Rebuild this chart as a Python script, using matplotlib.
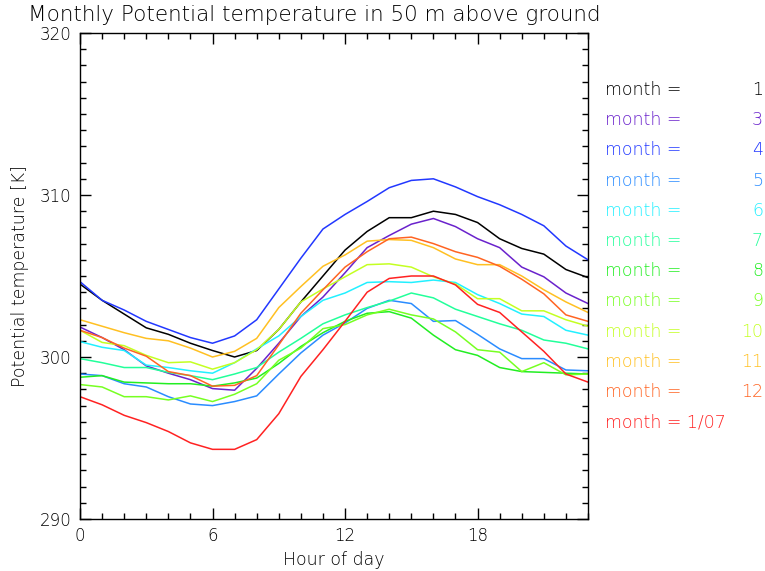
import numpy as np
import matplotlib
matplotlib.use('Agg')
import matplotlib.pyplot as plt
from matplotlib.ticker import MultipleLocator

hours = list(range(24))

# potential temperature [K] per hour
m01 = [304.5, 303.5, 302.65, 301.8, 301.4, 300.85, 300.4, 300.0, 300.4, 301.7, 303.4, 305.0,
       306.6, 307.75, 308.6, 308.6, 309.0, 308.8, 308.3, 307.3, 306.7, 306.35, 305.4, 304.9]
m03 = [301.85, 301.2, 300.45, 299.45, 299.0, 298.6, 298.05, 297.95, 299.3, 300.85, 302.5, 303.7,
       305.2, 306.75, 307.5, 308.2, 308.55, 308.05, 307.3, 306.75, 305.55, 304.95, 303.95, 303.3]
m04 = [304.65, 303.5, 302.9, 302.2, 301.7, 301.2, 300.85, 301.3, 302.3, 304.2, 306.1, 307.9,
       308.8, 309.6, 310.45, 310.9, 311.0, 310.5, 309.9, 309.4, 308.8, 308.1, 306.85, 306.0]
m05 = [298.95, 298.85, 298.35, 298.15, 297.55, 297.1, 297.0, 297.25, 297.6, 298.95, 300.25, 301.35,
       302.1, 303.0, 303.5, 303.3, 302.2, 302.25, 301.4, 300.5, 299.9, 299.9, 299.2, 299.15]
m06 = [300.95, 300.6, 300.4, 299.5, 299.35, 299.15, 299.0, 299.65, 300.5, 301.3, 302.5, 303.5,
       303.95, 304.6, 304.65, 304.6, 304.75, 304.6, 303.85, 303.3, 302.65, 302.5, 301.65, 301.35]
m07 = [299.9, 299.65, 299.35, 299.35, 299.05, 298.85, 298.6, 298.95, 299.35, 300.3, 301.15, 302.05,
       302.6, 303.05, 303.45, 303.95, 303.65, 302.95, 302.5, 302.05, 301.65, 301.05, 300.85, 300.5]
m08 = [298.75, 298.85, 298.45, 298.4, 298.35, 298.35, 298.2, 298.4, 298.7, 299.6, 300.65, 301.5,
       302.2, 302.7, 302.8, 302.4, 301.35, 300.45, 300.1, 299.35, 299.1, 299.05, 299.0, 298.95]
m09 = [298.3, 298.15, 297.55, 297.55, 297.35, 297.6, 297.25, 297.7, 298.35, 299.8, 300.55, 301.75,
       302.0, 302.6, 302.95, 302.6, 302.35, 301.55, 300.45, 300.3, 299.1, 299.65, 298.9, 298.95]
m10 = [301.65, 300.9, 300.7, 300.1, 299.65, 299.7, 299.25, 299.65, 300.45, 301.7, 303.4, 304.2,
       304.95, 305.7, 305.75, 305.55, 304.95, 304.5, 303.6, 303.6, 302.85, 302.85, 302.3, 301.9]
m11 = [302.3, 301.9, 301.5, 301.15, 301.0, 300.55, 300.0, 300.35, 301.15, 303.05, 304.35, 305.6,
       306.3, 307.15, 307.25, 307.2, 306.75, 306.05, 305.7, 305.7, 305.0, 304.15, 303.4, 302.75]
m12 = [301.65, 301.2, 300.55, 300.05, 299.1, 298.85, 298.2, 298.25, 298.85, 300.75, 302.7, 304.15,
       305.55, 306.5, 307.3, 307.4, 307.0, 306.5, 306.15, 305.6, 304.8, 303.9, 302.6, 302.2]
jan07 = [297.55, 297.05, 296.4, 295.95, 295.4, 294.7, 294.3, 294.3, 294.9, 296.5, 298.8, 300.45,
         302.2, 304.0, 304.85, 305.0, 305.0, 304.45, 303.25, 302.75, 301.55, 300.35, 298.95, 298.45]

series = [m01, m03, m04, m05, m06, m07, m08, m09, m10, m11, m12, jan07]
labels = ['1', '3', '4', '5', '6', '7', '8', '9', '10', '11', '12', '1/07']
colors = ['#000000', '#6a22cc', '#2238ff', '#2a8cff', '#22f0ff', '#22ff9a',
          '#22ee22', '#77ff22', '#c4ff22', '#ffc022', '#ff6422', '#ff2222']

plt.rcParams['font.family'] = 'DejaVu Sans'
plt.rcParams['font.weight'] = 'light'
plt.rcParams['axes.labelweight'] = 'light'
fs = 12.5

fig = plt.figure(figsize=(7.65, 5.71), dpi=100)
ax = fig.add_axes([80/765, 1-519/571, 508/765, 486/571])

for s, c in zip(series, colors):
    ax.plot(hours, s, color=c, linewidth=1.1)

ax.set_xlim(0, 23)
ax.set_ylim(290, 320)
ax.xaxis.set_major_locator(MultipleLocator(6))
ax.xaxis.set_minor_locator(MultipleLocator(1))
ax.yaxis.set_major_locator(MultipleLocator(10))
ax.yaxis.set_minor_locator(MultipleLocator(1))
ax.tick_params(which='both', direction='in', top=True, right=True, labelsize=12, width=1)
ax.tick_params(which='major', length=8, pad=6)
ax.tick_params(which='minor', length=4)
for sp in ax.spines.values():
    sp.set_linewidth(1)

ax.set_xlabel('Hour of day', fontsize=fs, labelpad=4)
ax.set_ylabel('Potential temperature [K]', fontsize=fs, labelpad=8)
fig.text(28/765, 1-21/571, 'Monthly Potential temperature in 50 m above ground',
         fontsize=15.5, ha='left', va='baseline')

# legend as plain text on the right
for i, (lab, c) in enumerate(zip(labels, colors)):
    y = 1 - (90 + 30.2*i)/571
    if lab == '1/07':
        fig.text(605/765, y, 'month = 1/07', color=c, fontsize=fs, va='center')
    else:
        fig.text(605/765, y, 'month =', color=c, fontsize=fs, va='center')
        fig.text(763/765, y, lab, color=c, fontsize=fs, va='center', ha='right')

fig.savefig('out.png', dpi=100)
